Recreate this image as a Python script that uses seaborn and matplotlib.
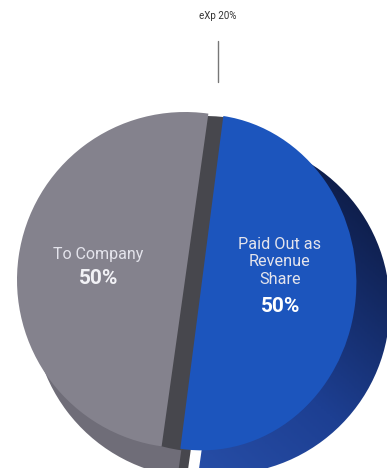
import numpy as np
import matplotlib
matplotlib.use("Agg")
import matplotlib.pyplot as plt
from matplotlib.colors import LinearSegmentedColormap
from matplotlib.transforms import Affine2D
import seaborn as sns

# ---- data ----
categories = ["To Company", "Paid Out as\nRevenue\nShare"]
shares = [50, 50]
share_labels = ["50%", "50%"]
top_label = "eXp 20%"

sns.set_theme(style="white")
plt.rcParams['font.family'] = ['Roboto', 'DejaVu Sans']

W, H = 387, 468
fig = plt.figure(figsize=(W / 100, H / 100), dpi=100)
ax = fig.add_axes([0, 0, 1, 1])

cx, cy = 185, 188
R = 168
start = 82
explode = [0, 17]
sx = 0.92  # horizontal perspective squeeze for the blue slice

gray = '#84828d'
gray_side = '#47474d'
gray_base = '#6f6d78'
blue = '#1c55bd'

theta_b = np.deg2rad(start + 270)
bx, by = explode[1] * np.cos(theta_b), explode[1] * np.sin(theta_b)


def squeeze(wedge, ccx, ccy, s):
    wedge.set_transform(Affine2D().translate(-ccx, -ccy).scale(s, 1)
                        .translate(ccx, ccy) + ax.transData)


# shadow / depth of the blue slice (gradient)
scx, scy = cx + 20, cy - 24
sh, _ = ax.pie(shares, center=(scx, scy), radius=R, startangle=start,
               explode=explode, colors=['none', 'none'],
               wedgeprops=dict(linewidth=0, zorder=1))
cmap = LinearSegmentedColormap.from_list('navy', ['#070d1f', '#0f1f4d', '#1d3f92', '#2a52ad'])
xx, yy = np.meshgrid(np.linspace(0, 1, 200), np.linspace(0, 1, 200))
grad = (1 - yy) * 0.8 + (1 - xx) * 0.35
img = ax.imshow(grad, extent=[150, W, -20, H], origin='lower', cmap=cmap,
                zorder=1, interpolation='bilinear')
img.set_clip_path(sh[1])

# lower part of the side face (mostly hidden by the base)
ax.pie(shares, center=(cx + 26, cy - 26), radius=R, startangle=start,
       explode=explode, colors=[gray_side, 'none'],
       wedgeprops=dict(linewidth=0, zorder=1.4))
# base of the gray slice
ax.pie(shares, center=(cx + 16, cy - 30), radius=R, startangle=start,
       explode=explode, colors=[gray_base, 'none'],
       wedgeprops=dict(linewidth=0, zorder=1.5))
# side face of gray slice
ax.pie(shares, center=(cx + 20, cy - 4), radius=R, startangle=start,
       explode=explode, colors=[gray_side, 'none'],
       wedgeprops=dict(linewidth=0, zorder=2))
# top faces
top, _ = ax.pie(shares, center=(cx, cy), radius=R, startangle=start,
                explode=explode, colors=[gray, blue],
                wedgeprops=dict(linewidth=0, zorder=3))
squeeze(top[1], cx + bx, cy + by, sx)

txt = '#e4e4ec'
ax.text(98, H - 254, categories[0], ha='center', va='center', fontsize=11.5,
        color=txt, zorder=5)
ax.text(99, H - 279, share_labels[0], ha='center', va='center', fontsize=15,
        fontweight='bold', color='#f2f2f6', zorder=5)
ax.text(280, H - 262, categories[1], ha='center', va='center', fontsize=11.7,
        color=txt, linespacing=1.2, zorder=5)
ax.text(281, H - 307, share_labels[1], ha='center', va='center', fontsize=15,
        fontweight='bold', color='white', zorder=5)

ax.text(218, H - 16, top_label, ha='center', va='center', fontsize=7,
        color='#333333', zorder=5)
ax.plot([218, 218], [H - 41, H - 82], color='#777777', linewidth=1, zorder=5)

ax.set_xlim(0, W)
ax.set_ylim(0, H)
ax.set_aspect('auto')
ax.axis('off')
fig.savefig('out.png', dpi=100, facecolor='white')
